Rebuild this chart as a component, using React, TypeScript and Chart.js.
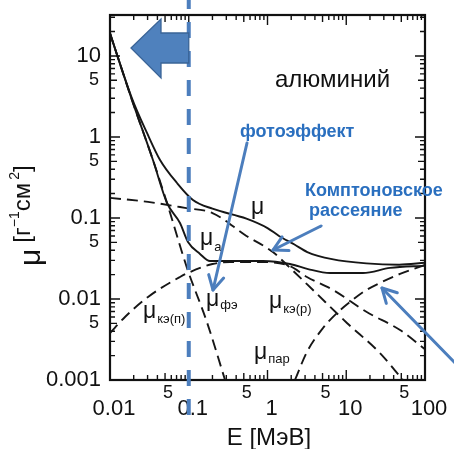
import React, { useEffect, useRef } from "react";
import { Chart, registerables } from "chart.js";

Chart.register(...registerables);

// ---- data (energy in MeV, attenuation coefficient in cm^2/g) ----
const energyTotal = [0.01, 0.019, 0.0295, 0.0432, 0.071, 0.113, 0.2, 0.54, 1.0, 1.4, 2.2, 3.2, 6.6, 18, 47, 100];
const muTotal = [19, 3.0, 1.12, 0.52, 0.27, 0.167, 0.13, 0.098, 0.075, 0.06, 0.047, 0.038, 0.031, 0.0275, 0.0265, 0.028];

const energyAbs = [0.01, 0.019, 0.0351, 0.053, 0.0774, 0.0978, 0.139, 0.186, 0.334, 0.877, 1.93, 3.27, 6.22, 16.3, 36, 100];
const muAbs = [19, 2.86, 0.52, 0.153, 0.0867, 0.0506, 0.036, 0.0294, 0.0294, 0.0294, 0.027, 0.0234, 0.0209, 0.0209, 0.0242, 0.0258];

const energyPhoto = [0.01, 0.019, 0.0351, 0.053, 0.095, 0.17, 0.289];
const muPhoto = [19, 2.86, 0.52, 0.153, 0.0242, 0.0052, 0.001];

const energyComptonAbs = [0.01, 0.0155, 0.0304, 0.0774, 0.0978, 0.2, 0.334, 0.877, 1.93, 3.17, 6.83, 18.2, 48.2, 100];
const muComptonAbs = [0.0038, 0.006, 0.0106, 0.0187, 0.021, 0.027, 0.0286, 0.0286, 0.0254, 0.0187, 0.0129, 0.0069, 0.00414, 0.0024];

const energyComptonScat = [0.01, 0.0304, 0.0895, 0.2, 0.54, 1.17, 1.93, 3.78, 10.2, 26.8, 52.5];
const muComptonScat = [0.177, 0.158, 0.133, 0.115, 0.06, 0.038, 0.0242, 0.0129, 0.00506, 0.00215, 0.001];

const energyPair = [2.23, 3.17, 5.07, 7.63, 11.2, 17.3, 26.8, 48.2, 70.4, 100];
const muPair = [0.001, 0.00222, 0.00438, 0.0067, 0.0092, 0.0126, 0.0158, 0.0204, 0.0234, 0.0263];

// ---- axes ----
const xMin = 0.01;
const xMax = 100;
const yMin = 0.001;
const yMax = 32;
const xMajorTicks = [0.01, 0.1, 1, 10, 100];
const xMajorLabels = ["0.01", "0.1", "1", "10", "100"];
const xFiveTicks = [0.05, 0.5, 5, 50];
const yMajorTicks = [0.001, 0.01, 0.1, 1, 10];
const yMajorLabels = ["0.001", "0.01", "0.1", "1", "10"];
const yFiveTicks = [0.005, 0.05, 0.5, 5];
const fiveLabel = "5";
const minorMultipliers = [2, 3, 4, 6, 7, 8, 9];
const markerEnergy = 0.1;

// ---- texts ----
const materialText = "алюминий";
const xTitle = "E [МэВ]";
const photoText = "фотоэффект";
const comptonText1 = "Комптоновское";
const comptonText2 = "рассеяние";

const FONT = '"Liberation Sans", Arial, sans-serif';

export default function App() {
  const ref = useRef<HTMLCanvasElement>(null);

  useEffect(() => {
    const canvas = ref.current;
    if (!canvas) return;

    const series = (E: number[], M: number[]) => E.map((x, i) => ({ x, y: M[i] }));
    const solid: any = {
      borderColor: "#161616",
      borderWidth: 1.9,
      pointRadius: 0,
      cubicInterpolationMode: "monotone",
      fill: false,
    };
    const dashed: any = { ...solid, borderDash: [11, 6] };

    const arrow = (ctx: CanvasRenderingContext2D, x0: number, y0: number, x1: number, y1: number) => {
      ctx.beginPath();
      ctx.moveTo(x0, y0);
      ctx.lineTo(x1, y1);
      ctx.stroke();
      const ang = Math.atan2(y1 - y0, x1 - x0);
      const L = 16;
      const spread = 0.5;
      ctx.beginPath();
      ctx.moveTo(x1 - L * Math.cos(ang - spread), y1 - L * Math.sin(ang - spread));
      ctx.lineTo(x1, y1);
      ctx.lineTo(x1 - L * Math.cos(ang + spread), y1 - L * Math.sin(ang + spread));
      ctx.stroke();
    };

    const muLabel = (ctx: CanvasRenderingContext2D, x: number, yb: number, sub: string, subDy: number) => {
      ctx.font = `23px ${FONT}`;
      ctx.textAlign = "left";
      ctx.textBaseline = "alphabetic";
      ctx.fillText("μ", x, yb);
      const w = ctx.measureText("μ").width;
      if (sub) {
        ctx.font = `13px ${FONT}`;
        ctx.fillText(sub, x + w + 1, yb + subDy);
      }
    };

    const overlay = {
      id: "overlay",
      afterDraw(chart: any) {
        const { ctx, chartArea: a } = chart;
        const xs = chart.scales.x;
        const ys = chart.scales.y;
        ctx.save();

        // frame
        ctx.strokeStyle = "#111";
        ctx.lineWidth = 2.2;
        ctx.strokeRect(a.left, a.top, a.right - a.left, a.bottom - a.top);

        // ticks
        ctx.lineWidth = 1.4;
        const xTick = (v: number, len: number) => {
          const p = xs.getPixelForValue(v);
          ctx.beginPath();
          ctx.moveTo(p, a.bottom);
          ctx.lineTo(p, a.bottom - len);
          ctx.moveTo(p, a.top);
          ctx.lineTo(p, a.top + len);
          ctx.stroke();
        };
        const yTick = (v: number, len: number) => {
          const p = ys.getPixelForValue(v);
          ctx.beginPath();
          ctx.moveTo(a.left, p);
          ctx.lineTo(a.left + len, p);
          ctx.moveTo(a.right, p);
          ctx.lineTo(a.right - len, p);
          ctx.stroke();
        };
        xMajorTicks.forEach((d) => {
          xTick(d, 10);
          minorMultipliers.forEach((m) => {
            if (d * m < xMax) xTick(d * m, 5);
          });
        });
        xFiveTicks.forEach((v) => xTick(v, 7));
        yMajorTicks.forEach((d) => {
          yTick(d, 10);
          minorMultipliers.forEach((m) => {
            if (d * m < yMax) yTick(d * m, 5);
          });
        });
        yFiveTicks.forEach((v) => yTick(v, 7));

        // tick labels
        ctx.fillStyle = "#111";
        ctx.textBaseline = "middle";
        ctx.textAlign = "right";
        ctx.font = `22px ${FONT}`;
        yMajorTicks.forEach((v, i) => ctx.fillText(yMajorLabels[i], 101, ys.getPixelForValue(v)));
        ctx.font = `18px ${FONT}`;
        yFiveTicks.forEach((v) => ctx.fillText(fiveLabel, 99, ys.getPixelForValue(v)));
        ctx.textAlign = "center";
        ctx.font = `22px ${FONT}`;
        xMajorTicks.forEach((v, i) => ctx.fillText(xMajorLabels[i], xs.getPixelForValue(v) + 4, a.bottom + 29));
        ctx.font = `18px ${FONT}`;
        xFiveTicks.forEach((v) => ctx.fillText(fiveLabel, xs.getPixelForValue(v) + 3, a.bottom + 13));

        // axis titles
        ctx.textBaseline = "alphabetic";
        ctx.font = `24px ${FONT}`;
        ctx.fillText(xTitle, 269, 445);

        ctx.save();
        ctx.translate(40, 266);
        ctx.rotate(-Math.PI / 2);
        ctx.textAlign = "left";
        ctx.font = `30px ${FONT}`;
        ctx.fillText("μ", 0, 0);
        let cx = ctx.measureText("μ").width + 6;
        const part = (t: string, size: number, dy: number, gap = 0) => {
          ctx.font = `${size}px ${FONT}`;
          ctx.fillText(t, cx, dy);
          cx += ctx.measureText(t).width + gap;
        };
        part("[г", 24, -10);
        part("−1", 14, -21);
        part("см", 24, -10, 3);
        part("2", 14, -21);
        part("]", 24, -10);
        ctx.restore();

        // material
        ctx.textAlign = "left";
        ctx.font = `24px ${FONT}`;
        ctx.fillText(materialText, 275, 87);

        // curve labels
        muLabel(ctx, 251, 214, "", 0);
        muLabel(ctx, 200, 245, "а", 6);
        muLabel(ctx, 206, 306, "фэ", 3);
        muLabel(ctx, 143, 318, "кэ(п)", 5);
        muLabel(ctx, 269, 308, "кэ(р)", 5);
        muLabel(ctx, 254, 359, "пар", 4);

        // blue annotations
        const blueLine = "#4c7ebd";
        const blueText = "#2a6fbf";

        // vertical dashed marker
        const mx = xs.getPixelForValue(markerEnergy);
        ctx.strokeStyle = blueLine;
        ctx.lineWidth = 4;
        ctx.setLineDash([16, 13]);
        ctx.beginPath();
        ctx.moveTo(mx, -7);
        ctx.lineTo(mx, 416);
        ctx.stroke();
        ctx.setLineDash([]);

        // big left arrow
        ctx.beginPath();
        ctx.moveTo(131, 48);
        ctx.lineTo(161, 19);
        ctx.lineTo(161, 33);
        ctx.lineTo(mx, 33);
        ctx.lineTo(mx, 63);
        ctx.lineTo(161, 63);
        ctx.lineTo(161, 78);
        ctx.closePath();
        ctx.fillStyle = "#4f81bd";
        ctx.fill();
        ctx.strokeStyle = "#3a6497";
        ctx.lineWidth = 1.3;
        ctx.stroke();

        // pointer arrows
        ctx.strokeStyle = blueLine;
        ctx.lineWidth = 3;
        ctx.lineCap = "round";
        ctx.lineJoin = "round";
        arrow(ctx, 247, 143, 213, 290);
        arrow(ctx, 321, 226, 273, 250);
        arrow(ctx, 460, 368, 382, 288);

        // blue texts
        ctx.fillStyle = blueText;
        ctx.font = `bold 18px ${FONT}`;
        ctx.textAlign = "left";
        ctx.fillText(photoText, 240, 137);
        ctx.fillText(comptonText1, 305, 196);
        ctx.fillText(comptonText2, 309, 216);

        ctx.restore();
      },
    };

    const chart = new Chart(canvas, {
      type: "line",
      data: {
        datasets: [
          { label: "μ", data: series(energyTotal, muTotal), ...solid },
          { label: "μа", data: series(energyAbs, muAbs), ...solid },
          { label: "μфэ", data: series(energyPhoto, muPhoto), ...dashed },
          { label: "μкэ(п)", data: series(energyComptonAbs, muComptonAbs), ...dashed },
          { label: "μкэ(р)", data: series(energyComptonScat, muComptonScat), ...dashed },
          { label: "μпар", data: series(energyPair, muPair), ...dashed },
        ],
      },
      options: {
        responsive: false,
        animation: false,
        devicePixelRatio: 1,
        events: [],
        layout: { padding: { left: 110, top: 15, right: 29, bottom: 69 } },
        plugins: { legend: { display: false }, tooltip: { enabled: false } },
        scales: {
          x: { type: "logarithmic", min: xMin, max: xMax, display: false },
          y: { type: "logarithmic", min: yMin, max: yMax, display: false },
        },
      } as any,
      plugins: [overlay as any],
    });

    return () => chart.destroy();
  }, []);

  return (
    <div style={{ position: "fixed", left: 0, top: 0, width: 454, height: 449, background: "#fff" }}>
      <canvas ref={ref} width={454} height={449} style={{ display: "block" }} />
    </div>
  );
}
